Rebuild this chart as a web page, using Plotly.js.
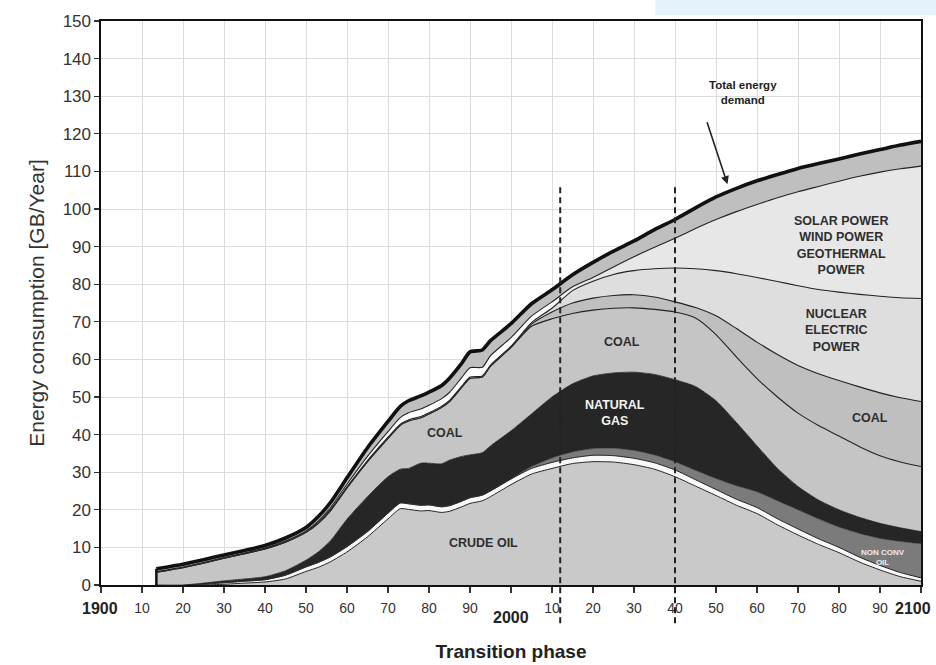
<!DOCTYPE html>
<html><head><meta charset="utf-8">
<script src="https://cdn.plot.ly/plotly-3.0.1.min.js"></script>
<style>html,body{margin:0;padding:0;background:#fff}#chart{width:936px;height:665px}</style>
</head><body><div id="chart"></div>
<script>
// ---- data (cumulative top of each stacked layer, GB/Year) ----
const YEARS = [1913.5,1920,1925,1930,1935,1940,1945,1950,1953,1956,1960,1965,1970,1973,1975,1978,1980,1983,1985,1988,1990,1993,1995,2000,2005,2010,2015,2020,2025,2030,2035,2040,2045,2050,2055,2060,2065,2070,2075,2080,2085,2090,2095,2100];
const CRUDE_OIL_TOP = [0,0,0,0.2,0.5,0.8,1.6,3.6,4.7,6.2,8.8,12.8,17.6,20.3,20.1,19.7,19.8,19.3,19.6,20.8,21.7,22.4,23.5,26.7,29.5,31.0,32.3,32.8,32.7,32.0,30.8,28.8,26.3,23.8,21.2,19.0,16.0,13.3,10.8,8.6,6.1,4.0,2.2,1.0];
const SEPARATOR_TOP = [0,0,0.2,0.6,1.0,1.4,2.6,4.8,6.0,7.5,10.2,14.2,19.1,21.8,21.6,21.2,21.3,20.8,21.1,22.3,23.2,23.9,25.0,28.2,31.0,32.6,33.8,34.5,34.4,33.7,32.5,30.6,28.0,25.4,22.8,20.6,17.6,14.9,12.3,10.0,7.4,5.2,3.3,1.9];
const NONCONV_OIL_TOP = [0,0,0.2,0.6,1.0,1.4,2.6,4.8,6.0,7.5,10.2,14.2,19.1,21.8,21.6,21.2,21.3,20.8,21.1,22.3,23.2,23.9,25.0,28.2,31.5,33.8,35.4,36.3,36.4,35.8,34.6,32.8,30.5,28.3,26.4,24.8,22.4,20.0,17.6,15.4,13.7,12.4,11.6,11.0];
const NATURAL_GAS_TOP = [0,0,0.5,1.1,1.6,2.2,3.8,6.6,8.8,11.8,17.5,23.5,28.8,30.8,31.0,32.4,32.4,32.2,33.2,34.2,34.6,35.2,37.0,41.0,45.5,50.0,53.5,55.6,56.4,56.6,56.0,54.6,52.8,49.0,43.2,37.0,31.0,26.2,22.6,20.0,18.0,16.4,15.2,14.2];
const COAL_LOWER_TOP = [3.4,4.6,5.8,7.1,8.3,9.6,11.4,14.0,16.4,19.8,25.8,32.8,39.0,42.5,43.6,44.5,45.5,47.2,48.8,52.6,55.0,55.3,58.2,63.2,68.8,70.8,72.2,73.1,73.6,73.7,73.3,72.6,71.0,66.6,60.6,54.9,50.0,45.7,42.4,39.6,36.8,34.4,32.7,31.5];
const COAL_UPPER_TOP = [3.4,4.6,5.8,7.1,8.3,9.6,11.4,14.0,16.4,19.8,25.8,32.8,39.0,42.5,43.6,44.5,45.5,47.2,48.8,52.6,55.0,55.3,58.2,63.2,69.4,72.6,75.0,76.3,77.0,77.2,76.6,75.3,73.8,71.6,68.2,64.6,61.3,58.4,56.2,54.4,52.7,51.1,49.8,48.8];
const NUCLEAR_TOP = [3.5,4.7,5.9,7.2,8.4,9.7,11.6,14.2,16.7,20.1,26.1,33.1,39.3,42.8,43.9,44.8,45.8,47.5,49.1,52.9,55.3,55.6,58.5,63.5,69.8,73.6,78.3,80.8,82.6,83.6,84.1,84.3,84.1,83.6,82.8,81.8,80.7,79.6,78.6,77.9,77.3,76.8,76.4,76.2];
const RENEWABLES_TOP = [3.6,4.8,6.0,7.3,8.5,9.8,11.7,14.4,17.0,20.6,26.8,34.2,40.8,44.5,45.8,46.8,47.8,49.5,51.2,55.2,57.8,57.9,61.0,65.8,71.5,75.3,79.3,81.8,84.6,87.3,89.8,92.2,94.8,97.2,99.3,101.2,103.0,104.6,106.0,107.4,108.7,109.8,110.7,111.4];
const TOTAL_DEMAND = [4.3,5.5,6.7,8.0,9.2,10.5,12.5,15.3,18.2,22.0,28.5,36.5,43.5,47.5,49.0,50.3,51.3,53.0,55.0,59.0,62.0,62.5,65.0,69.5,74.8,78.5,82.5,85.8,88.8,91.5,94.5,97.2,100.3,103.2,105.5,107.5,109.2,110.8,112.1,113.3,114.6,115.8,117.0,118.0];

const DECADE_TICKS = [1900,1910,1920,1930,1940,1950,1960,1970,1980,1990,2000,2010,2020,2030,2040,2050,2060,2070,2080,2090,2100];
const DECADE_LABELS = ['','10','20','30','40','50','60','70','80','90','','10','20','30','40','50','60','70','80','90',''];
const CENTURY_YEARS = [1900, 2000, 2100];
const CENTURY_LABELS = ['1900','2000','2100'];
const Y_TICKS = [0,10,20,30,40,50,60,70,80,90,100,110,120,130,140,150];
const PHASE_YEARS = [2012, 2040];
const PHASE_TOP = 106.4;

// ---- traces ----
const FONT = '"Liberation Sans", Arial, sans-serif';
function layer(name, y, fillcolor, lw, lc, fill) {
  return {type:'scatter', mode:'lines', name:name, x:YEARS, y:y,
    fill:fill || 'tonexty', fillcolor:fillcolor,
    line:{color:lc, width:lw, shape:'spline', smoothing:0.6},
    hoverinfo:'skip', showlegend:false};
}
const solar = layer('Solar, wind, geothermal', RENEWABLES_TOP, '#e7e7e7', 1.1, '#222');
solar.fillgradient = {type:'horizontal',
  colorscale:[[0,'#ffffff'],[0.5,'#ffffff'],[0.56,'#e7e7e7'],[1,'#e7e7e7']]};

const traces = [
  layer('Crude oil', CRUDE_OIL_TOP, '#c9c9c9', 1, '#222', 'tozeroy'),
  layer('Separator', SEPARATOR_TOP, '#f8f8f8', 1, '#222'),
  layer('Non conventional oil', NONCONV_OIL_TOP, '#7b7b7b', 0.6, '#333'),
  layer('Natural gas', NATURAL_GAS_TOP, '#262626', 0.8, '#1a1a1a'),
  layer('Coal', COAL_LOWER_TOP, '#c5c5c5', 1.1, '#222'),
  layer('Coal (upper)', COAL_UPPER_TOP, '#bfbfbf', 1.1, '#222'),
  layer('Nuclear electric power', NUCLEAR_TOP, '#dedede', 1.1, '#222'),
  solar,
  layer('Total energy demand', TOTAL_DEMAND, '#bfbfbf', 3.6, '#111'),
  {type:'scatter', mode:'lines', x:[YEARS[0], YEARS[0]], y:[0, TOTAL_DEMAND[0]],
   line:{color:'#111', width:2.5}, hoverinfo:'skip', showlegend:false}
];

// ---- shapes ----
const shapes = PHASE_YEARS.map(yr => ({
  type:'line', xref:'x', yref:'paper', x0:yr, x1:yr,
  y0:-0.068, y1:PHASE_TOP/150,
  line:{color:'#222', width:2, dash:'6px,4px'}, layer:'above'
}));
shapes.push({type:'rect', xref:'paper', yref:'paper', x0:0.676, x1:1.02, y0:1.01, y1:1.04,
  fillcolor:'#e4f2fb', line:{width:0}, layer:'below'});

// ---- annotations ----
const lab = (x, y, text, size, color, extra) => Object.assign({
  x:x, y:y, xref:'x', yref:'y', text:text, showarrow:false,
  font:{family:FONT, size:size, color:color, weight:'bold'}, align:'center'
}, extra || {});
const annotations = [
  lab(2056.6, 131, 'Total energy<br>demand', 11.5, '#222'),
  {x:2052.8, y:106.6, ax:2047.7, ay:123.5, xref:'x', yref:'y', axref:'x', ayref:'y',
   text:'', showarrow:true, arrowhead:2, arrowsize:1, arrowwidth:1.6, arrowcolor:'#222'},
  lab(2080.6, 90.4, 'SOLAR POWER<br>WIND POWER<br>GEOTHERMAL<br>POWER', 12.5, '#2e2e2e'),
  lab(2079.4, 67.6, 'NUCLEAR<br>ELECTRIC<br>POWER', 12.5, '#2e2e2e'),
  lab(2087.6, 44.3, 'COAL', 12.5, '#2e2e2e'),
  lab(2027.0, 64.7, 'COAL', 12.5, '#2e2e2e'),
  lab(1983.9, 40.3, 'COAL', 12.5, '#2e2e2e'),
  lab(2025.4, 45.7, 'NATURAL<br>GAS', 12.5, '#f4f4f4'),
  lab(1993.4, 11.2, 'CRUDE OIL', 12.5, '#2e2e2e'),
  lab(2090.8, 7.3, 'NON CONV<br>OIL', 8, '#eeeeee')
];
CENTURY_YEARS.forEach((yr, i) => {
  annotations.push({x:yr, y: i === 1 ? -0.057 : -0.041, xref:'x', yref:'paper',
    text:CENTURY_LABELS[i], showarrow:false, xshift: i === 2 ? -8 : (i === 0 ? -1 : 0),
    font:{family:FONT, size:16, color:'#222', weight:'bold'}, yanchor:'middle'});
});

const layout = {
  width:936, height:665,
  margin:{l:101, r:15, t:21, b:80, pad:0},
  paper_bgcolor:'#ffffff', plot_bgcolor:'#ffffff',
  showlegend:false,
  xaxis:{range:[1900,2100], tickmode:'array', tickvals:DECADE_TICKS, ticktext:DECADE_LABELS,
    ticks:'outside', ticklen:6, tickwidth:1.2, tickcolor:'#333',
    tickfont:{family:FONT, size:14, color:'#333'}, ticklabelstandoff:3,
    showgrid:true, gridcolor:'#dcdcdc', gridwidth:1, zeroline:false,
    showline:true, linecolor:'#111', linewidth:2, mirror:true,
    title:{text:'Transition phase', font:{family:FONT, size:19, color:'#222', weight:'bold'}, standoff:30},
    fixedrange:true},
  yaxis:{range:[0,150], tickmode:'array', tickvals:Y_TICKS,
    ticks:'outside', ticklen:5, tickwidth:1.2, tickcolor:'#333',
    tickfont:{family:FONT, size:17, color:'#333'},
    showgrid:true, gridcolor:'#dcdcdc', gridwidth:1, zeroline:false,
    showline:true, linecolor:'#111', linewidth:1.6, mirror:true,
    title:{text:'Energy consumption [GB/Year]', font:{family:FONT, size:21, color:'#333'}, standoff:12},
    fixedrange:true},
  shapes:shapes,
  annotations:annotations
};

Plotly.newPlot('chart', traces, layout, {displayModeBar:false, staticPlot:true});
</script>
</body></html>
